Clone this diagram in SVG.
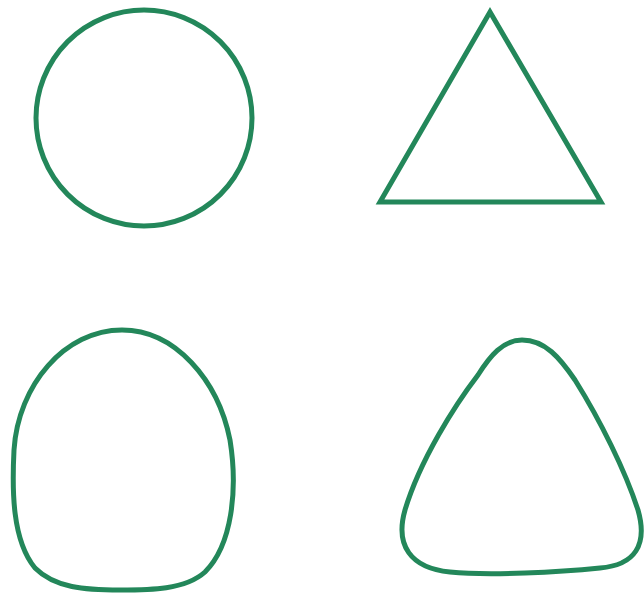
<svg xmlns="http://www.w3.org/2000/svg" width="644" height="596" viewBox="0 0 644 596">
<style>
.s{fill:none;stroke:#23875a;stroke-width:5;stroke-linejoin:round}
</style>
<rect width="644" height="596" fill="#ffffff"/>
<g id="circle"><circle class="s" cx="144" cy="118" r="108"/></g>
<g id="triangle"><polygon class="s" points="490,12 380,202 601,202" style="stroke-linejoin:miter"/></g>
<g id="egg"><path class="s" d="M122 330 C175 330 218 380 230 440 C238 490 232 545 205 572 C185 590 150 590 120 590 C85 590 55 588 35 568 C12 540 12 490 14 450 C18 385 65 330 122 330 Z"/></g>
<g id="rounded-triangle"><path class="s" d="M522 340 C545 340 560 358 575 380 C600 420 625 470 638 510 C648 545 635 565 600 568 C560 572 490 576 450 572 C410 568 395 545 405 510 C420 460 455 405 478 375 C490 356 503 340 522 340 Z"/></g>
</svg>
